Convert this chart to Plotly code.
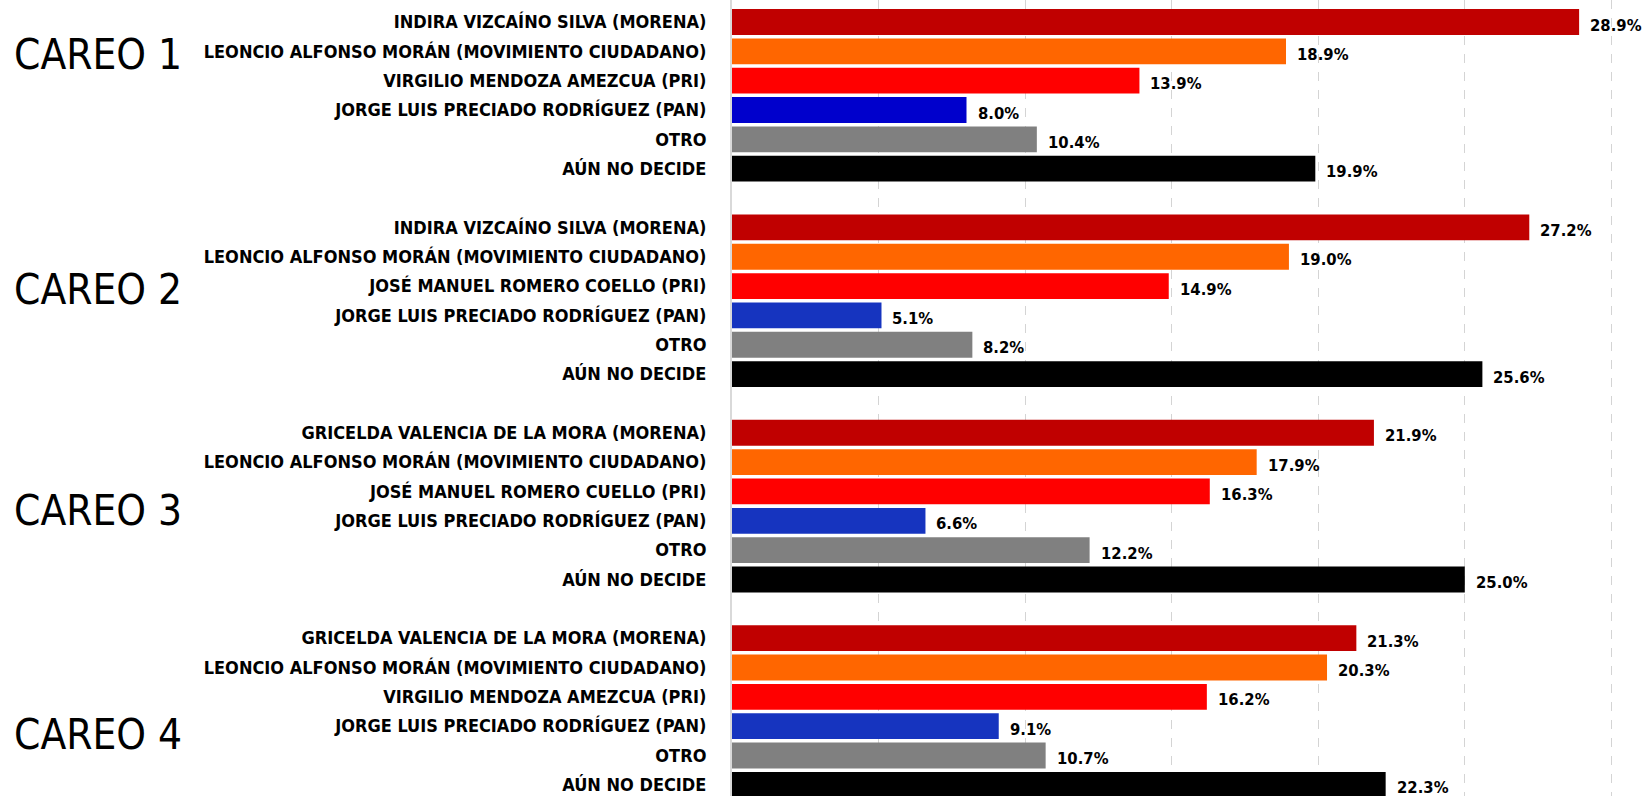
import plotly.graph_objects as go

careos = ["CAREO 1", "CAREO 2", "CAREO 3", "CAREO 4"]

careo1_names = ["INDIRA VIZCAÍNO SILVA (MORENA)", "LEONCIO ALFONSO MORÁN (MOVIMIENTO CIUDADANO)",
                "VIRGILIO MENDOZA AMEZCUA (PRI)", "JORGE LUIS PRECIADO RODRÍGUEZ (PAN)", "OTRO", "AÚN NO DECIDE"]
careo2_names = ["INDIRA VIZCAÍNO SILVA (MORENA)", "LEONCIO ALFONSO MORÁN (MOVIMIENTO CIUDADANO)",
                "JOSÉ MANUEL ROMERO COELLO (PRI)", "JORGE LUIS PRECIADO RODRÍGUEZ (PAN)", "OTRO", "AÚN NO DECIDE"]
careo3_names = ["GRICELDA VALENCIA DE LA MORA (MORENA)", "LEONCIO ALFONSO MORÁN (MOVIMIENTO CIUDADANO)",
                "JOSÉ MANUEL ROMERO CUELLO (PRI)", "JORGE LUIS PRECIADO RODRÍGUEZ (PAN)", "OTRO", "AÚN NO DECIDE"]
careo4_names = ["GRICELDA VALENCIA DE LA MORA (MORENA)", "LEONCIO ALFONSO MORÁN (MOVIMIENTO CIUDADANO)",
                "VIRGILIO MENDOZA AMEZCUA (PRI)", "JORGE LUIS PRECIADO RODRÍGUEZ (PAN)", "OTRO", "AÚN NO DECIDE"]

careo1_values = [28.9, 18.9, 13.9, 8.0, 10.4, 19.9]
careo2_values = [27.2, 19.0, 14.9, 5.1, 8.2, 25.6]
careo3_values = [21.9, 17.9, 16.3, 6.6, 12.2, 25.0]
careo4_values = [21.3, 20.3, 16.2, 9.1, 10.7, 22.3]

careo1_colors = ["#C00000", "#FF6600", "#FF0000", "#0000CC", "#808080", "#000000"]
careo_colors = ["#C00000", "#FF6600", "#FF0000", "#1634BF", "#808080", "#000000"]

groups = [
    (careo1_names, careo1_values, careo1_colors),
    (careo2_names, careo2_values, careo_colors),
    (careo3_names, careo3_values, careo_colors),
    (careo4_names, careo4_values, careo_colors),
]

# layout / style
FONT = "Liberation Sans Narrow, Arial Narrow, DejaVu Sans Condensed, sans-serif"
careo_label_offsets = [1.1, 2.1, 2.66, 3.3]  # vertical position of big labels within group (rows)
slots_per_group = 7

fig = go.Figure()
tickvals, ticktext = [], []
annotations = []
for g, (names, vals, cols) in enumerate(groups):
    ys = [g * slots_per_group + r for r in range(len(names))]
    fig.add_trace(go.Bar(
        x=vals, y=ys, orientation="h", width=0.88,
        marker=dict(color=cols, line=dict(width=0)),
        showlegend=False, hoverinfo="x+y",
    ))
    tickvals += ys
    ticktext += names
    for v, y in zip(vals, ys):
        annotations.append(dict(
            x=v, y=y, xref="x", yref="y", text=f"{v:.1f}%", showarrow=False,
            xanchor="left", yanchor="middle", xshift=9, yshift=-3,
            font=dict(family=FONT, size=16.5, color="#000000", weight="bold"),
        ))
    annotations.append(dict(
        x=-0.786, y=g * slots_per_group + careo_label_offsets[g], xref="paper", yref="y",
        text=careos[g], showarrow=False, xanchor="left", yanchor="middle",
        font=dict(family=FONT, size=42, color="#000000"),
    ))

fig.update_layout(
    width=1648, height=796,
    margin=dict(l=732, r=0, t=0, b=0),
    paper_bgcolor="white", plot_bgcolor="white",
    bargap=0.1,
    annotations=annotations,
    xaxis=dict(range=[0, 31.25], dtick=5, tick0=0, showticklabels=False,
               showgrid=True, gridcolor="#D4D4D4", griddash="dash", gridwidth=1,
               zeroline=False, showline=False),
    yaxis=dict(range=[26.38, -0.75], tickvals=tickvals, ticktext=ticktext,
               tickfont=dict(family=FONT, size=18, color="#000000", weight="bold"),
               ticks="", ticklabelstandoff=20, showgrid=False, zeroline=False,
               showline=True, linecolor="#D9D9D9", linewidth=2),
)

fig.write_html(
    "out.html",
    config={"displayModeBar": False},
    post_script="document.body.style.margin='0';document.body.style.overflow='hidden';",
)
